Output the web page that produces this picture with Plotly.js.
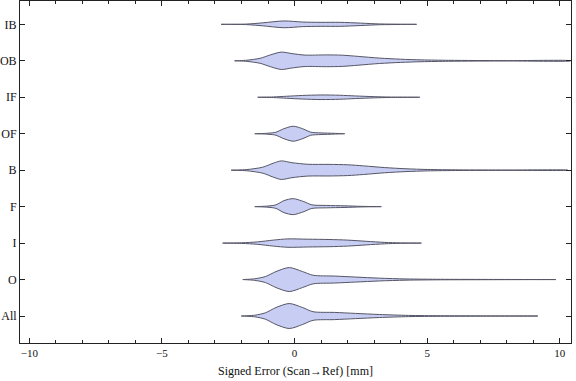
<!DOCTYPE html>
<html><head><meta charset="utf-8">
<script src="https://cdn.plot.ly/plotly-3.0.1.min.js"></script>
<style>html,body{margin:0;padding:0;background:#fff}#chart{width:576px;height:381px}</style>
</head><body><div id="chart"></div>
<script>
// Categories, top to bottom
const categories = ["IB","OB","IF","OF","B","F","I","O","All"];
// Violin outline profiles: x positions (mm) and half-width (relative density, px-like units)
const xIB = [-2.77,-1.8,-1.2,-0.4,0.3,1.0,1.7,2.5,3.2,4.0,4.6];
const wIB = [0,0.3,1.5,3.4,2.3,2.0,2.0,1.2,0.4,0.15,0];
const xOB = [-2.26,-1.8,-1.3,-0.9,-0.5,-0.1,0.4,1.2,1.8,2.4,3.2,4.0,4.8,5.8,6.8,8.0,10.4];
const wOB = [0,0.6,2.5,6,8.7,7.2,5.7,5.9,5.6,4.4,2.7,1.6,0.9,0.5,0.3,0.15,0.1];
const xIF = [-1.39,-0.8,-0.3,0.3,1.0,1.7,2.3,3.0,3.6,4.72];
const wIF = [0,0.3,1.0,1.8,2.3,2.0,1.3,0.6,0.2,0];
const xOF = [-1.5,-1.0,-0.7,-0.45,-0.05,0.35,0.6,1.0,1.5,1.89];
const wOF = [0,0.5,1.5,4.5,7.5,4.5,1.6,0.8,0.4,0];
const xB = [-2.39,-1.8,-1.2,-0.8,-0.5,-0.1,0.5,1.3,2.0,2.6,3.4,4.2,5.0,6.2,8.0,10.3];
const wB = [0,0.6,3,7,9.3,7.5,5.9,5.8,5.4,4.3,2.6,1.4,0.7,0.3,0.12,0.05];
const xF = [-1.5,-1.0,-0.7,-0.4,-0.05,0.35,0.65,1.2,1.9,2.5,3.27];
const wF = [0,0.6,1.8,6,8,5,1.8,1.2,0.8,0.3,0];
const xI = [-2.71,-2.0,-1.4,-0.8,-0.25,0.5,1.3,2.0,2.7,3.4,4.0,4.78];
const wI = [0,0.3,1.2,3,4.2,3.9,3.6,3.0,1.8,0.7,0.2,0];
const xO = [-1.95,-1.5,-1.1,-0.7,-0.2,0.3,0.7,1.5,2.3,3.2,4.2,5.5,7.0,9.85];
const wO = [0,0.8,3,8,12,8,4.3,3.5,2.5,1.4,0.6,0.25,0.15,0];
const xAll = [-2.01,-1.5,-1.1,-0.7,-0.2,0.3,0.7,1.5,2.3,3.2,4.3,5.5,7.0,9.17];
const wAll = [0,0.8,3.2,8.5,12.5,8.5,4.3,3.6,2.6,1.5,0.6,0.25,0.12,0];

const profiles = [[xIB,wIB],[xOB,wOB],[xIF,wIF],[xOF,wOF],[xB,wB],[xF,wF],[xI,wI],[xO,wO],[xAll,wAll]];
const widthScale = 1/36.5;
const n = categories.length;
const traces = profiles.map((p,i)=>{
  const c = n - i;
  const xs = p[0], ws = p[1];
  const X = [], Y = [];
  for (let k=0;k<xs.length;k++){ X.push(xs[k]); Y.push(c + ws[k]*widthScale); }
  for (let k=xs.length-1;k>=0;k--){ X.push(xs[k]); Y.push(c - ws[k]*widthScale); }
  X.push(xs[0]); Y.push(c);
  return {x:X, y:Y, type:'scatter', mode:'lines', fill:'toself',
    fillcolor:'rgba(200,206,243,1)', line:{color:'#555566', width:1, shape:'spline', smoothing:0.8},
    hoverinfo:'skip', showlegend:false};
});
const serif = '"Liberation Serif", "DejaVu Serif", serif';
const layout = {
  width:576, height:381,
  margin:{l:20, r:5, t:1, b:38},
  paper_bgcolor:'#fff', plot_bgcolor:'#fff',
  showlegend:false,
  xaxis:{range:[-10.35,10.42], tickvals:[-10,-5,0,5,10], ticks:'inside', ticklen:5, tickwidth:1, tickcolor:'#222',
    minor:{dtick:1, tick0:0, ticks:'inside', ticklen:3, tickcolor:'#222', showgrid:false},
    showline:true, linecolor:'#222', linewidth:1, mirror:'ticks', showgrid:false, zeroline:false,
    tickfont:{family:serif, size:11, color:'#111'},
    title:{text:'Signed Error (Scan→Ref) [mm]', font:{family:serif, size:12, color:'#111'}, standoff:8}},
  yaxis:{range:[0.26,9.64], tickvals:categories.map((c,i)=>n-i), ticktext:categories,
    ticks:'inside', ticklen:5, tickwidth:1, tickcolor:'#222',
    showline:true, linecolor:'#222', linewidth:1, mirror:'ticks', showgrid:false, zeroline:false,
    tickfont:{family:serif, size:12, color:'#111'}}
};
Plotly.newPlot('chart', traces, layout, {displayModeBar:false, staticPlot:true});
</script></body></html>
